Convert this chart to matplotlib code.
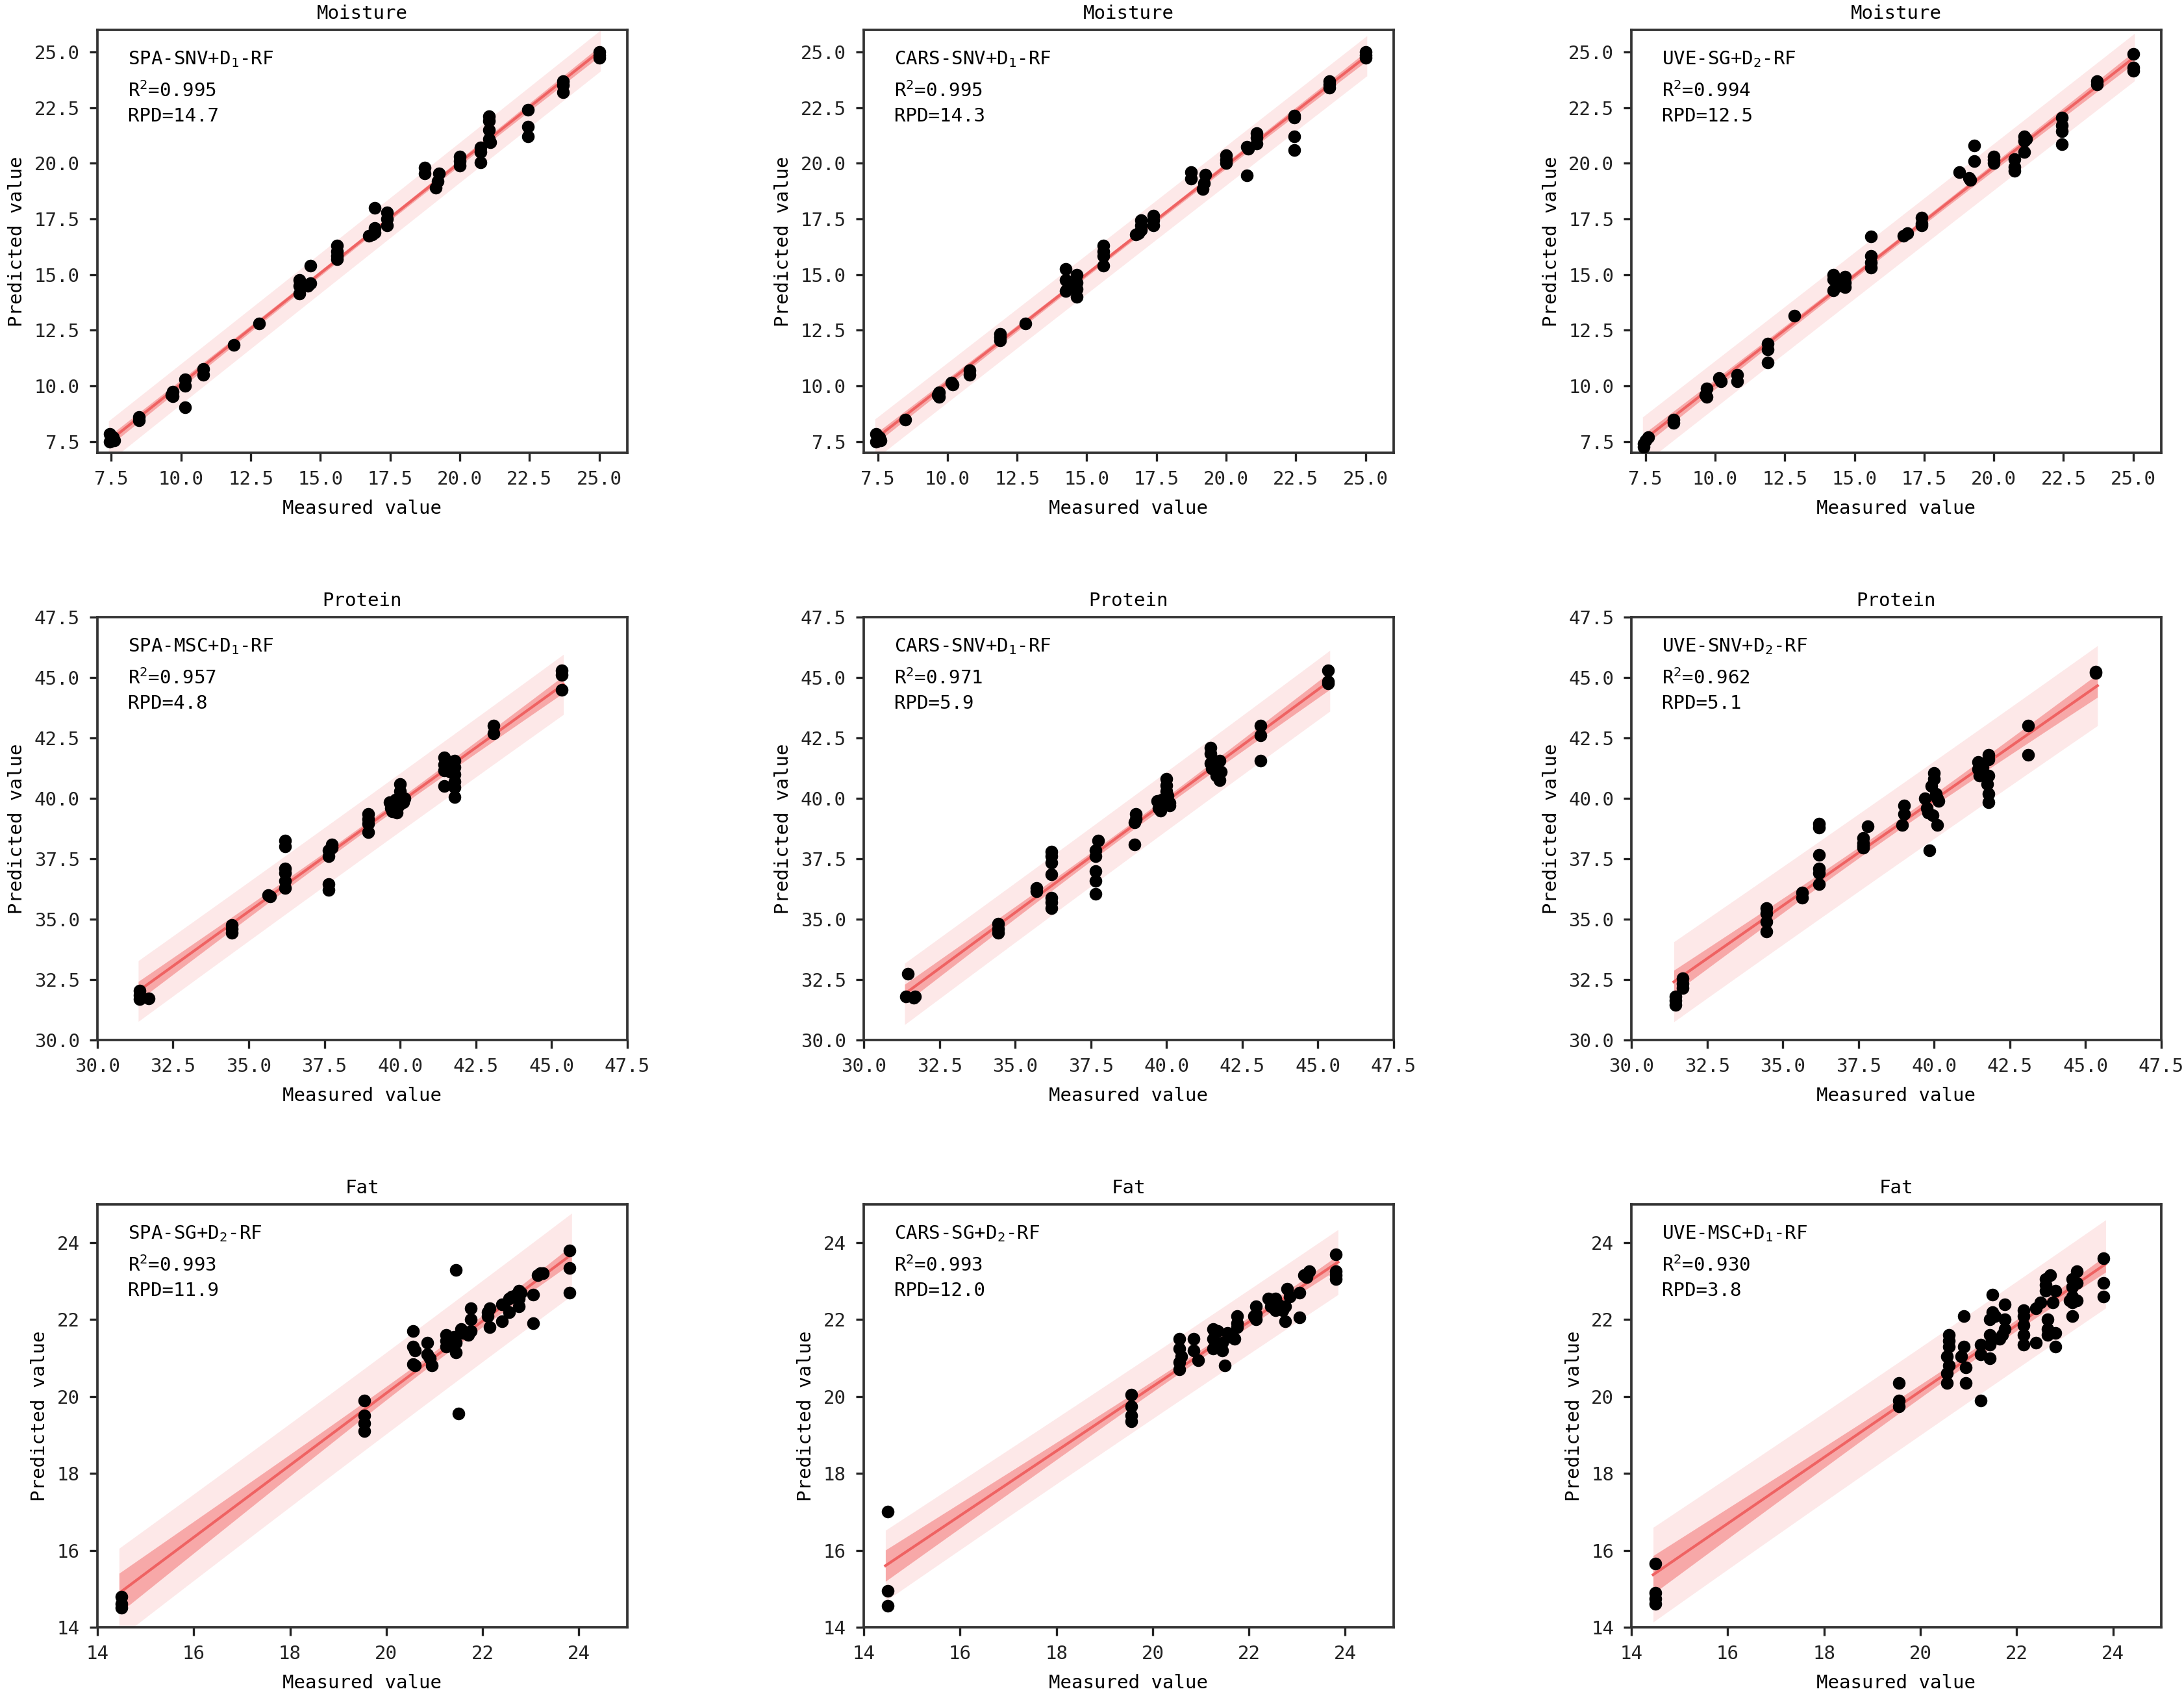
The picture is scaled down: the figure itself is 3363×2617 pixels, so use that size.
import numpy as np
import matplotlib
matplotlib.use("Agg")
import matplotlib.pyplot as plt

plt.rcParams['font.family'] = ['DejaVu Sans Mono']
plt.rcParams['mathtext.fontset'] = 'custom'
plt.rcParams['mathtext.rm'] = 'DejaVu Sans Mono'
plt.rcParams['mathtext.it'] = 'DejaVu Sans Mono'
plt.rcParams['mathtext.default'] = 'regular'

# ---- Moisture ----
meas_m1 = [7.45, 7.5, 7.55, 7.6, 7.45, 8.5, 8.5, 9.7, 9.7, 9.65, 10.15, 10.15, 10.15, 10.8, 10.8,
           11.9, 12.8, 14.25, 14.25, 14.25, 14.65, 14.65, 14.55, 15.6, 15.6, 15.6, 15.6,
           16.75, 16.85, 16.95, 16.95, 16.95, 17.4, 17.4, 17.4, 18.75, 18.75, 19.15, 19.2, 19.25,
           20.0, 20.0, 20.0, 20.75, 20.75, 20.75, 21.05, 21.05, 21.05, 21.05, 21.1,
           22.45, 22.45, 22.45, 23.7, 23.7, 23.7, 25.0, 25.0, 25.0]
pred_m1 = [7.85, 7.6, 7.7, 7.55, 7.5, 8.6, 8.45, 9.75, 9.55, 9.6, 10.3, 10.0, 9.05, 10.75, 10.5,
           11.85, 12.8, 14.75, 14.5, 14.15, 15.4, 14.6, 14.5, 16.3, 16.05, 15.85, 15.7,
           16.75, 16.8, 18.0, 17.1, 16.9, 17.8, 17.5, 17.2, 19.8, 19.55, 18.9, 19.2, 19.55,
           20.3, 20.1, 19.9, 20.7, 20.5, 20.05, 22.1, 21.9, 21.5, 21.1, 20.95,
           22.4, 21.65, 21.2, 23.7, 23.5, 23.2, 25.0, 24.85, 24.75]

meas_m2 = [7.45, 7.5, 7.55, 7.6, 7.45, 8.5, 9.7, 9.7, 9.65, 10.15, 10.2, 10.8, 10.8,
           11.9, 11.9, 11.9, 12.8, 14.25, 14.25, 14.25, 14.3, 14.65, 14.65, 14.65, 14.65, 14.6,
           15.6, 15.6, 15.6, 15.6, 16.75, 16.85, 16.95, 16.95, 16.95, 17.4, 17.4, 17.4,
           18.75, 18.75, 19.15, 19.2, 19.25, 20.0, 20.0, 20.0, 20.75, 20.8, 20.75,
           21.1, 21.1, 21.1, 22.45, 22.45, 22.45, 22.45, 23.7, 23.7, 23.7, 25.0, 25.0, 25.0]
pred_m2 = [7.85, 7.6, 7.7, 7.55, 7.5, 8.5, 9.7, 9.5, 9.6, 10.15, 10.05, 10.7, 10.5,
           12.35, 12.2, 12.05, 12.8, 15.25, 14.75, 14.25, 14.35, 15.0, 14.65, 14.35, 14.0, 14.5,
           16.3, 16.05, 15.85, 15.4, 16.8, 16.85, 17.45, 17.2, 17.0, 17.65, 17.45, 17.2,
           19.6, 19.3, 18.85, 19.1, 19.5, 20.35, 20.15, 20.0, 20.75, 20.65, 19.45,
           21.35, 21.15, 20.9, 22.15, 22.05, 21.2, 20.6, 23.7, 23.55, 23.4, 25.0, 24.85, 24.75]

meas_m3 = [7.6, 7.5, 7.45, 7.45, 8.5, 8.5, 9.7, 9.7, 9.65, 10.15, 10.2, 10.8, 10.8,
           11.9, 11.9, 11.9, 12.85, 14.25, 14.25, 14.25, 14.35, 14.65, 14.65, 14.65, 14.55,
           15.6, 15.6, 15.6, 15.6, 16.75, 16.9, 17.4, 17.4, 17.4, 18.75, 19.1, 19.15, 19.3, 19.3,
           20.0, 20.0, 20.0, 20.75, 20.75, 20.75, 21.1, 21.1, 21.1, 21.15,
           22.45, 22.45, 22.45, 22.45, 23.7, 23.7, 25.0, 25.0, 25.0]
pred_m3 = [7.7, 7.55, 7.4, 7.25, 8.5, 8.35, 9.9, 9.5, 9.6, 10.35, 10.2, 10.5, 10.2,
           11.9, 11.65, 11.05, 13.15, 15.0, 14.8, 14.3, 14.6, 14.9, 14.65, 14.45, 14.5,
           16.7, 15.85, 15.55, 15.3, 16.75, 16.85, 17.55, 17.3, 17.2, 19.6, 19.35, 19.25, 20.8, 20.1,
           20.3, 20.15, 20.0, 20.2, 19.85, 19.65, 21.2, 21.0, 20.5, 21.1,
           22.05, 21.7, 21.45, 20.85, 23.7, 23.55, 24.9, 24.3, 24.15]

# ---- Protein ----
meas_p1 = [31.4, 31.4, 31.4, 31.7, 34.45, 34.45, 34.45, 35.65, 35.7,
           36.2, 36.2, 36.2, 36.2, 36.2, 36.2, 37.65, 37.65, 37.65, 37.65, 37.75, 37.75,
           38.95, 38.95, 38.95, 38.95, 39.65, 39.7, 39.75, 39.8, 39.85, 39.9, 40.0, 40.0, 40.05,
           40.1, 40.15, 39.95, 41.45, 41.45, 41.45, 41.45, 41.8, 41.8, 41.8, 41.8, 41.8, 41.8,
           41.65, 41.6, 43.1, 43.1, 45.35, 45.35, 45.35]
pred_p1 = [32.05, 31.85, 31.7, 31.72, 34.75, 34.6, 34.45, 36.0, 35.95,
           38.25, 38.0, 37.1, 36.9, 36.6, 36.3, 37.85, 37.6, 36.45, 36.2, 38.1, 37.95,
           39.35, 39.15, 38.95, 38.6, 39.85, 39.6, 39.45, 39.8, 39.95, 39.4, 40.6, 40.3, 40.0,
           39.85, 40.0, 39.7, 41.7, 41.4, 41.15, 40.5, 41.55, 41.3, 41.0, 40.7, 40.45, 40.05,
           41.1, 41.3, 43.0, 42.7, 45.3, 45.1, 44.5]

meas_p2 = [31.45, 31.4, 31.7, 31.65, 34.45, 34.45, 34.45, 35.7, 35.7,
           36.2, 36.2, 36.2, 36.2, 36.2, 36.2, 36.2, 37.65, 37.65, 37.65, 37.65, 37.65, 37.75,
           39.0, 39.0, 38.95, 38.95, 39.7, 39.75, 39.8, 39.85, 39.9, 40.0, 40.0, 40.0, 40.05,
           40.1, 40.1, 39.95, 41.45, 41.45, 41.45, 41.5, 41.75, 41.7, 41.75, 41.65, 41.8, 41.6,
           43.1, 43.1, 43.1, 45.35, 45.35, 45.35]
pred_p2 = [32.75, 31.8, 31.8, 31.75, 34.8, 34.6, 34.45, 36.3, 36.15,
           37.8, 37.6, 37.35, 36.85, 35.9, 35.7, 35.45, 37.85, 37.6, 37.0, 36.6, 36.05, 38.25,
           39.35, 39.15, 39.0, 38.1, 39.9, 39.6, 39.5, 39.95, 39.75, 40.8, 40.55, 40.3, 40.1,
           39.8, 39.7, 40.0, 42.1, 41.85, 41.45, 41.25, 41.55, 41.2, 40.75, 40.95, 41.1, 41.35,
           43.0, 42.6, 41.55, 45.3, 44.85, 44.75]

meas_p3 = [31.45, 31.45, 31.45, 31.7, 31.7, 31.7, 34.45, 34.45, 34.45, 34.45, 35.65, 35.65,
           36.2, 36.2, 36.2, 36.2, 36.2, 36.2, 37.65, 37.65, 37.65, 37.65, 37.8,
           39.0, 39.0, 38.95, 39.7, 39.75, 39.8, 39.85, 39.9, 39.95, 40.0, 40.0, 40.05, 40.1,
           40.1, 40.15, 41.45, 41.45, 41.5, 41.8, 41.8, 41.8, 41.75, 41.8, 41.8, 41.6, 41.65,
           43.1, 43.1, 45.35, 45.35]
pred_p3 = [31.8, 31.65, 31.45, 32.55, 32.35, 32.15, 35.45, 35.25, 34.9, 34.5, 36.1, 35.9,
           38.95, 38.8, 37.65, 37.1, 36.9, 36.45, 38.35, 38.15, 37.95, 38.05, 38.85,
           39.7, 39.35, 38.9, 40.0, 39.6, 39.4, 37.85, 40.5, 39.3, 41.05, 40.8, 40.2, 40.0,
           38.9, 39.9, 41.5, 41.2, 40.95, 41.8, 41.6, 40.95, 40.6, 40.2, 39.85, 41.3, 41.0,
           43.0, 41.8, 45.25, 45.2]

# ---- Fat ----
meas_f1 = [14.5, 14.5, 14.5, 19.55, 19.55, 19.55, 19.55, 20.55, 20.55, 20.6, 20.55, 20.6,
           20.85, 20.85, 20.9, 20.95, 21.25, 21.25, 21.25, 21.45, 21.45, 21.45, 21.4,
           21.5, 21.55, 21.6, 21.75, 21.75, 21.75, 21.7, 22.1, 22.15, 22.15, 22.1,
           22.4, 22.4, 22.45, 22.55, 22.6, 22.55, 22.75, 22.75, 22.75, 22.8, 22.7,
           23.05, 23.05, 23.15, 23.2, 23.25, 23.8, 23.8, 23.8]
pred_f1 = [14.8, 14.6, 14.5, 19.9, 19.5, 19.3, 19.1, 21.7, 21.3, 21.2, 20.85, 20.8,
           21.4, 21.1, 21.0, 20.8, 21.6, 21.45, 21.3, 23.3, 21.15, 21.4, 21.55,
           19.55, 21.75, 21.65, 22.3, 22.0, 21.7, 21.6, 22.2, 22.3, 21.8, 22.1,
           22.4, 21.95, 22.4, 22.55, 22.6, 22.2, 22.75, 22.55, 22.35, 22.7, 22.65,
           22.65, 21.9, 23.15, 23.2, 23.2, 23.8, 23.35, 22.7]

meas_f2 = [14.5, 14.5, 14.5, 19.55, 19.55, 19.55, 19.55, 20.55, 20.55, 20.6, 20.55, 20.55,
           20.85, 20.85, 20.95, 21.25, 21.25, 21.25, 21.35, 21.45, 21.45, 21.5, 21.55, 21.6, 21.7,
           21.75, 21.75, 21.75, 22.15, 22.15, 22.15, 22.1, 22.4, 22.45, 22.55, 22.6, 22.55,
           22.8, 22.75, 22.75, 22.7, 22.85, 23.05, 23.05, 23.15, 23.25, 23.2,
           23.8, 23.8, 23.8, 23.8]
pred_f2 = [17.0, 14.95, 14.55, 20.05, 19.75, 19.5, 19.35, 21.5, 21.25, 21.05, 20.9, 20.7,
           21.5, 21.2, 20.95, 21.75, 21.5, 21.25, 21.7, 21.4, 21.2, 20.8, 21.65, 21.55, 21.5,
           22.1, 21.9, 21.8, 22.35, 22.15, 22.0, 22.1, 22.55, 22.35, 22.55, 22.4, 22.25,
           22.8, 22.35, 21.95, 22.25, 22.6, 22.7, 22.05, 23.15, 23.25, 23.1,
           23.7, 23.25, 23.15, 23.05]

meas_f3 = [14.5, 14.5, 14.5, 14.5, 19.55, 19.55, 19.55,
           20.6, 20.6, 20.6, 20.55, 20.6, 20.55, 20.55, 20.9, 20.9, 20.85, 20.95, 20.95,
           21.25, 21.25, 21.25, 21.5, 21.5, 21.45, 21.45, 21.45, 21.45, 21.55,
           21.75, 21.75, 21.75, 21.7, 21.65, 22.15, 22.15, 22.15, 22.15, 22.15,
           22.4, 22.4, 22.5, 22.6, 22.6, 22.6, 22.65, 22.65, 22.65, 22.7,
           22.8, 22.75, 22.8, 22.8, 23.15, 23.15, 23.15, 23.15, 23.15, 23.1,
           23.25, 23.25, 23.25, 23.8, 23.8, 23.8]
pred_f3 = [15.65, 14.9, 14.75, 14.6, 20.35, 19.9, 19.75,
           21.6, 21.45, 21.3, 21.05, 20.8, 20.6, 20.35, 22.1, 21.3, 21.05, 20.75, 20.35,
           21.35, 21.1, 19.9, 22.65, 22.2, 22.0, 21.6, 21.35, 21.0, 22.1,
           22.4, 22.0, 21.75, 21.6, 21.5, 22.25, 22.1, 21.85, 21.6, 21.35,
           22.3, 21.4, 22.45, 23.05, 22.9, 22.75, 22.0, 21.75, 21.6, 23.15,
           22.75, 22.45, 21.65, 21.3, 23.05, 22.85, 22.6, 22.45, 22.1, 22.5,
           23.25, 22.95, 22.5, 23.6, 22.95, 22.6]

titles = ['Moisture', 'Moisture', 'Moisture', 'Protein', 'Protein', 'Protein', 'Fat', 'Fat', 'Fat']
models = ['SPA-SNV+D$_1$-RF', 'CARS-SNV+D$_1$-RF', 'UVE-SG+D$_2$-RF',
          'SPA-MSC+D$_1$-RF', 'CARS-SNV+D$_1$-RF', 'UVE-SNV+D$_2$-RF',
          'SPA-SG+D$_2$-RF', 'CARS-SG+D$_2$-RF', 'UVE-MSC+D$_1$-RF']
r2_vals = ['0.995', '0.995', '0.994', '0.957', '0.971', '0.962', '0.993', '0.993', '0.930']
rpd_vals = ['14.7', '14.3', '12.5', '4.8', '5.9', '5.1', '11.9', '12.0', '3.8']

meas = [meas_m1, meas_m2, meas_m3, meas_p1, meas_p2, meas_p3, meas_f1, meas_f2, meas_f3]
pred = [pred_m1, pred_m2, pred_m3, pred_p1, pred_p2, pred_p3, pred_f1, pred_f2, pred_f3]

row_lims = [(7, 26), (30, 47.5), (14, 25)]
row_ticks = [np.arange(7.5, 25.1, 2.5), np.arange(30, 47.6, 2.5), np.arange(14, 24.1, 2)]
row_fmt = ['%.1f', '%.1f', '%.0f']

fig = plt.figure(figsize=(3363 / 300, 2617 / 300), dpi=300)
lefts = [0.0446, 0.3955, 0.747]
bottoms = [0.7337, 0.3882, 0.0428]
w, h = 0.2425, 0.2488

for i in range(9):
    r, c = divmod(i, 3)
    ax = fig.add_axes([lefts[c], bottoms[r], w, h])
    x = np.array(meas[i])
    y = np.array(pred[i])

    # linear fit with confidence and prediction bands
    n = len(x)
    b, a = np.polyfit(x, y, 1)
    xs = np.linspace(x.min() - 0.05, x.max() + 0.05, 200)
    ys = a + b * xs
    s = np.sqrt(np.sum((y - (a + b * x)) ** 2) / (n - 2))
    sxx = np.sum((x - x.mean()) ** 2)
    t = 2.0
    ci = t * s * np.sqrt(1 / n + (xs - x.mean()) ** 2 / sxx)
    pi = t * s * np.sqrt(1 + 1 / n + (xs - x.mean()) ** 2 / sxx)
    ax.fill_between(xs, ys - pi, ys + pi, color='#f05050', alpha=0.13, lw=0, zorder=1)
    ax.fill_between(xs, ys - ci, ys + ci, color='#f05050', alpha=0.42, lw=0, zorder=2)
    ax.plot(xs, ys, color='#ef6262', lw=1.0, zorder=3)
    ax.scatter(x, y, s=22, color='black', lw=0, zorder=4)

    lo, hi = row_lims[r]
    ax.set_xlim(lo, hi)
    ax.set_ylim(lo, hi)
    ax.set_xticks(row_ticks[r])
    ax.set_yticks(row_ticks[r])
    ax.set_xticklabels([row_fmt[r] % v for v in row_ticks[r]])
    ax.set_yticklabels([row_fmt[r] % v for v in row_ticks[r]])
    ax.tick_params(labelsize=7, length=3, width=0.8, colors='#222222')
    for sp in ax.spines.values():
        sp.set_linewidth(0.9)
        sp.set_color('#333333')

    ax.set_title(titles[i], fontsize=7, pad=4)
    ax.set_xlabel('Measured value', fontsize=7, labelpad=4)
    ax.set_ylabel('Predicted value', fontsize=7, labelpad=3)

    ax.text(0.058, 0.93, models[i], transform=ax.transAxes, fontsize=7, va='center')
    ax.text(0.058, 0.855, 'R$^2$=' + r2_vals[i], transform=ax.transAxes, fontsize=7, va='center')
    ax.text(0.058, 0.795, 'RPD=' + rpd_vals[i], transform=ax.transAxes, fontsize=7, va='center')

fig.savefig('out.png', dpi=300)
